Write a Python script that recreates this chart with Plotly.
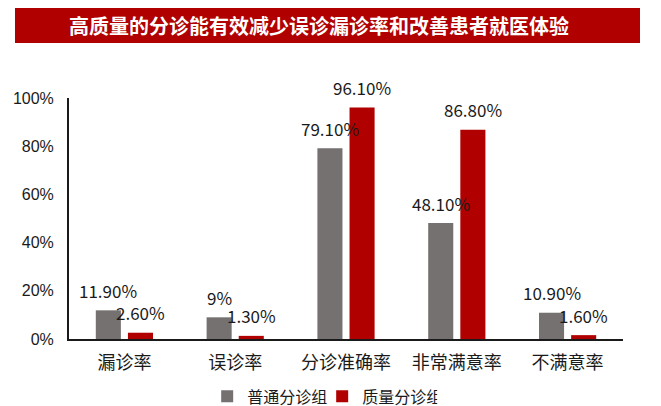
import plotly.graph_objects as go

categories = ["漏诊率", "误诊率", "分诊准确率", "非常满意率", "不满意率"]
normal_group = [11.9, 9.0, 79.1, 48.1, 10.9]
quality_group = [2.6, 1.3, 96.1, 86.8, 1.6]
normal_labels = ["11.90%", "9%", "79.10%", "48.10%", "10.90%"]
quality_labels = ["2.60%", "1.30%", "96.10%", "86.80%", "1.60%"]
series_names = ["普通分诊组", "质量分诊组"]
y_ticks = [0, 20, 40, 60, 80, 100]
y_tick_text = ["0%", "20%", "40%", "60%", "80%", "100%"]
title_text = "高质量的分诊能有效减少误诊漏诊率和改善患者就医体验"

GRAY = "#767171"
RED = "#B00000"
CJK = "Noto Sans CJK SC"

fig = go.Figure()
fig.add_trace(go.Bar(x=categories, y=normal_group, name=series_names[0],
                     marker=dict(color=GRAY, line=dict(width=0))))
fig.add_trace(go.Bar(x=categories, y=quality_group, name=series_names[1],
                     marker=dict(color=RED, line=dict(width=0))))

annotations = []
for cat, v, t in zip(categories, normal_group, normal_labels):
    annotations.append(dict(x=cat, y=v, text=t, xref="x", yref="y", showarrow=False,
                            xshift=-16, yshift=20, yanchor="middle",
                            font=dict(family=CJK, size=17, color="#1a1a1a")))
for cat, v, t in zip(categories, quality_group, quality_labels):
    annotations.append(dict(x=cat, y=v, text=t, xref="x", yref="y", showarrow=False,
                            xshift=16, yshift=20, yanchor="middle",
                            font=dict(family=CJK, size=17, color="#1a1a1a")))

annotations.append(dict(x=0.4504, y=1.3008, xref="paper", yref="paper", showarrow=False,
                        text="<b>" + title_text + "</b>", xanchor="center", yanchor="middle",
                        font=dict(family=CJK, size=20, color="white")))

# the page body adds an 8px offset, so the figure is 8px smaller and margins shifted
fig.update_layout(
    width=653, height=398,
    margin=dict(l=61, r=38, t=90, b=67, autoexpand=False),
    paper_bgcolor="white", plot_bgcolor="white",
    barmode="group", bargap=0.42, bargroupgap=0.22,
    showlegend=True,
    legend=dict(orientation="h", x=0.457, y=-0.238, xanchor="center", yanchor="middle",
                font=dict(family=CJK, size=16, color="#1a1a1a"),
                itemwidth=30, entrywidth=70, entrywidthmode="pixels",
                traceorder="normal"),
    annotations=annotations,
    shapes=[dict(type="rect", xref="paper", yref="paper",
                 x0=-0.0975, x1=1.0307, y0=1.228, y1=1.373,
                 fillcolor=RED, line=dict(width=0), layer="below")],
    xaxis=dict(showline=True, linecolor="#1a1a1a", linewidth=2, showgrid=False,
               ticks="", tickfont=dict(family=CJK, size=18, color="#1a1a1a"),
               ticklabelstandoff=6),
    yaxis=dict(range=[0, 100], tickvals=y_ticks, ticktext=y_tick_text,
               showline=True, linecolor="#1a1a1a", linewidth=2, showgrid=False,
               zeroline=False, ticks="",
               tickfont=dict(family="Liberation Sans", size=16, color="#1a1a1a"),
               ticklabelstandoff=10),
)

fig.write_html("out.html")
